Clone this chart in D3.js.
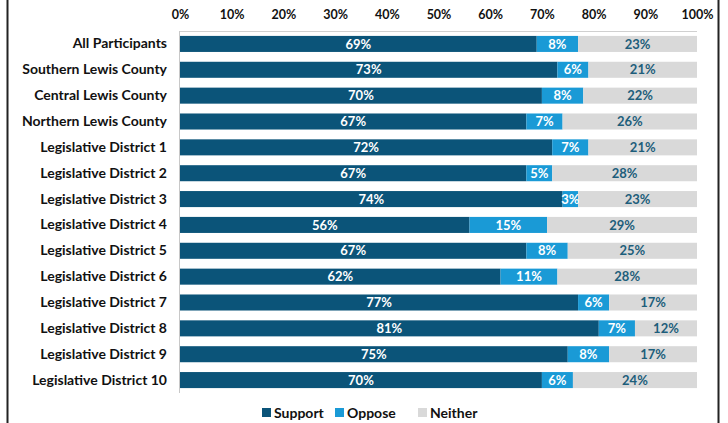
<!DOCTYPE html>
<html>
<head>
<meta charset="utf-8">
<script src="https://cdn.jsdelivr.net/npm/d3@7"></script>
<style>
  body { margin: 0; background: #fff; }
  svg text { font-family: Lato, "Open Sans", sans-serif; font-weight: bold; }
</style>
</head>
<body>
<div id="chart"></div>
<script>
// Data
const categories = ["All Participants", "Southern Lewis County", "Central Lewis County", "Northern Lewis County",
  "Legislative District 1", "Legislative District 2", "Legislative District 3", "Legislative District 4",
  "Legislative District 5", "Legislative District 6", "Legislative District 7", "Legislative District 8",
  "Legislative District 9", "Legislative District 10"];
const support = [69, 73, 70, 67, 72, 67, 74, 56, 67, 62, 77, 81, 75, 70];
const oppose  = [8, 6, 8, 7, 7, 5, 3, 15, 8, 11, 6, 7, 8, 6];
const neither = [23, 21, 22, 26, 21, 28, 23, 29, 25, 28, 17, 12, 17, 24];
const seriesNames = ["Support", "Oppose", "Neither"];
const tickValues = [0, 10, 20, 30, 40, 50, 60, 70, 80, 90, 100];

const width = 728, height = 423;
const colors = { Support: "#0b5479", Oppose: "#1a9ad6", Neither: "#d9d9d9" };
const labelColors = { Support: "#ffffff", Oppose: "#ffffff", Neither: "#1d5e7b" };

const svg = d3.select("#chart").append("svg")
  .attr("width", width)
  .attr("height", height);

// frame lines left/right
svg.append("line").attr("x1", 7.5).attr("x2", 7.5).attr("y1", 0).attr("y2", height)
  .attr("stroke", "#222").attr("stroke-width", 2);
svg.append("line").attr("x1", 718.5).attr("x2", 718.5).attr("y1", 0).attr("y2", height)
  .attr("stroke", "#222").attr("stroke-width", 2);

const x = d3.scaleLinear().domain([0, 100]).range([180, 697]);
const y = d3.scaleBand().domain(categories).range([31, 393]).paddingInner(0.38).paddingOuter(0.19);

// stacked rows
const rows = categories.map((c, i) => {
  const vals = [support[i], oppose[i], neither[i]];
  let start = 0;
  return vals.map((v, j) => {
    const s = { cat: c, name: seriesNames[j], value: v, x0: start, x1: Math.min(100, start + v) };
    start += v;
    return s;
  });
}).flat();

// top light line and left axis line
svg.append("line").attr("x1", x(0)).attr("x2", x(100)).attr("y1", 31.5).attr("y2", 31.5)
  .attr("stroke", "#d0d0d0");
svg.append("line").attr("x1", x(0) - 0.5).attr("x2", x(0) - 0.5).attr("y1", 31).attr("y2", 393)
  .attr("stroke", "#c8c8c8");

svg.selectAll(".seg")
  .data(rows)
  .enter()
  .append("rect")
  .attr("class", "seg")
  .attr("x", d => x(d.x0))
  .attr("y", d => y(d.cat))
  .attr("width", d => x(d.x1) - x(d.x0))
  .attr("height", y.bandwidth())
  .attr("fill", d => colors[d.name]);

svg.selectAll(".seglabel")
  .data(rows)
  .enter()
  .append("text")
  .attr("class", "seglabel")
  .attr("x", d => x((d.x0 + d.x1) / 2))
  .attr("y", d => y(d.cat) + y.bandwidth() / 2)
  .attr("dy", "0.36em")
  .attr("text-anchor", "middle")
  .attr("font-size", 13)
  .attr("fill", d => labelColors[d.name])
  .text(d => d.value + "%");

// category labels
const yAxis = d3.axisLeft(y).tickSize(0).tickPadding(13);
svg.append("g")
  .attr("transform", `translate(${x(0)},0)`)
  .call(yAxis)
  .call(g => g.select(".domain").remove())
  .selectAll("text")
  .attr("font-size", 14)
  .attr("fill", "#111")
  .style("font-family", "Lato, 'Open Sans', sans-serif");

// top axis
const xAxis = d3.axisTop(x).tickValues(tickValues).tickSize(0).tickPadding(0).tickFormat(d => d + "%");
svg.append("g")
  .attr("transform", "translate(0,19)")
  .call(xAxis)
  .call(g => g.select(".domain").remove())
  .selectAll("text")
  .attr("font-size", 12.5)
  .attr("fill", "#111")
  .style("font-family", "Lato, 'Open Sans', sans-serif");

// legend
const legendX = [262, 335, 418];
const legend = svg.selectAll(".leg")
  .data(seriesNames)
  .enter()
  .append("g")
  .attr("class", "leg")
  .attr("transform", (d, i) => `translate(${legendX[i]},413)`);
legend.append("rect")
  .attr("x", 0).attr("y", -5)
  .attr("width", 9).attr("height", 9)
  .attr("fill", d => colors[d]);
legend.append("text")
  .attr("x", 12)
  .attr("y", 0)
  .attr("dy", "0.36em")
  .attr("font-size", 14)
  .attr("fill", "#111")
  .text(d => d);
</script>
</body>
</html>
